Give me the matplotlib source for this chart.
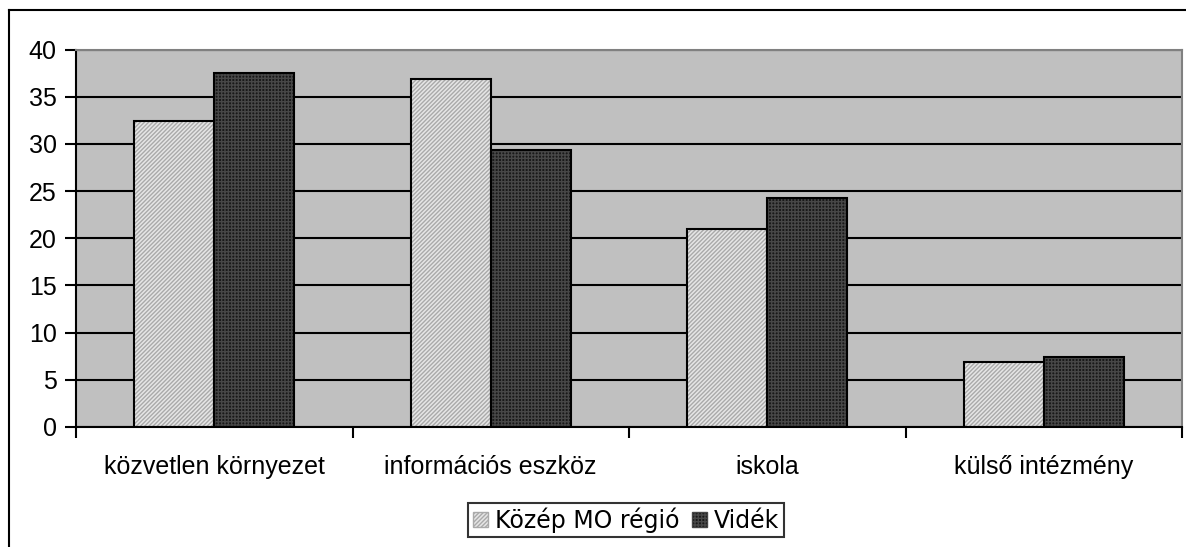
import matplotlib
matplotlib.use("Agg")
import matplotlib.pyplot as plt
from matplotlib.patches import Patch
from matplotlib.lines import Line2D
import numpy as np

categories = ["közvetlen környezet", "információs eszköz", "iskola", "külső intézmény"]
series_names = ["Közép MO régió", "Vidék"]
kozep = [32.4, 36.9, 21.0, 6.9]
videk = [37.5, 29.3, 24.3, 7.4]
yticks = [0, 5, 10, 15, 20, 25, 30, 35, 40]

fig = plt.figure(figsize=(11.86, 5.47), dpi=100)
ax = fig.add_axes([76/1186, 1-427/547, (1182-76)/1186, (427-49.5)/547])
ax.set_facecolor("#c0c0c0")

x = np.arange(len(categories)) + 0.5
w = 0.29

light_face, light_hatch = "#e6e6e6", "#aaaaaa"
dark_face, dark_hatch = "#181818", "#474747"
light_pat, dark_pat = "////////", "+++++"

ax.set_axisbelow(True)
ax.yaxis.grid(True, color="black", lw=1.5)

ax.bar(x - w/2, kozep, w, color=light_face, edgecolor=light_hatch, hatch=light_pat, lw=0, zorder=2)
ax.bar(x - w/2, kozep, w, fill=False, edgecolor="black", lw=1.5, zorder=3)
ax.bar(x + w/2, videk, w, color=dark_face, edgecolor=dark_hatch, hatch=dark_pat, lw=0, zorder=2)
ax.bar(x + w/2, videk, w, fill=False, edgecolor="black", lw=1.5, zorder=3)

ax.set_xlim(0, 4)
ax.set_ylim(0, 40)
ax.set_yticks(yticks)
ax.set_yticklabels([str(v) for v in yticks], fontfamily="Liberation Sans", fontsize=18)
ax.tick_params(axis="y", direction="out", length=8, width=1.5, pad=6, colors="black")

ax.set_xticks([0, 1, 2, 3, 4])
ax.set_xticklabels([])
ax.tick_params(axis="x", which="major", direction="out", length=8, width=1.5)
ax.set_xticks(x, minor=True)
ax.set_xticklabels(categories, minor=True, fontfamily="Liberation Sans", fontsize=18)
ax.tick_params(axis="x", which="minor", length=0, pad=20)

for s in ["left", "bottom"]:
    ax.spines[s].set_color("black")
    ax.spines[s].set_linewidth(1.5)
for s in ["top", "right"]:
    ax.spines[s].set_color("#808080")
    ax.spines[s].set_linewidth(1.5)

handles = [Patch(facecolor=light_face, edgecolor=light_hatch, hatch=light_pat),
           Patch(facecolor=dark_face, edgecolor=dark_hatch, hatch=dark_pat)]
leg = fig.legend(handles, series_names, loc="center", bbox_to_anchor=(626/1186, 1-520/547),
                 ncol=2, frameon=True, fancybox=False, edgecolor="black",
                 prop={"family": "DejaVu Sans", "size": 17}, handlelength=0.65, handleheight=0.65,
                 handletextpad=0.3, columnspacing=0.5, borderpad=0.2, borderaxespad=0)
leg.get_frame().set_linewidth(1.5)

# outer chart border (left and top visible)
fig.add_artist(Line2D([9/1186, 9/1186], [0, 1-10/547], color="black", lw=1.5, transform=fig.transFigure))
fig.add_artist(Line2D([9/1186, 1], [1-10/547, 1-10/547], color="black", lw=1.5, transform=fig.transFigure))

fig.savefig("out.png", dpi=100)
